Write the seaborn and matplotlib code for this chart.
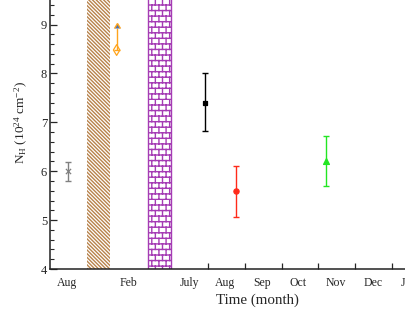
import numpy as np
import matplotlib
matplotlib.use("Agg")
import matplotlib.pyplot as plt
import matplotlib.hatch as mhatch
from matplotlib.path import Path
from matplotlib.ticker import AutoMinorLocator
import seaborn as sns

# time axis (compressed at the start, one unit = one month from x=7 on)
month_labels = ["Aug", "Feb", "July", "Aug", "Sep", "Oct", "Nov", "Dec", "Jan", "Feb"]
month_pos = [3.17, 4.85, 6.5, 7.46, 8.46, 9.46, 10.48, 11.5, 12.44, 13.5]
month_edges = [7, 8, 9, 10, 11, 12, 13]

# N_H measurements
obs_x = [3.2, 4.52, 6.92, 7.77, 10.21]
obs_nh = [6.0, 8.48, 7.4, 5.6, 6.2]
obs_err_lo = [0.19, 0.0, 0.58, 0.53, 0.5]
obs_err_hi = [0.19, 0.45, 0.6, 0.51, 0.52]
obs_lowlim = [False, True, False, False, False]
obs_color = ["#808080", "#ffa41c", "#000000", "#ff2a1a", "#22e622"]
obs_marker = ["x", "d", "s", "o", "^"]
obs_size = [14, 30, 10, 14, 18]
obs_open = [False, True, False, False, False]

# shaded periods (start, end)
band_stripes = (3.72, 4.34)
band_bricks = (5.36, 6.01)


# brick hatch, takes over the 'o' hatch character
class Bricks(mhatch.HatchPatternBase):
    def __init__(self, hatch, density):
        self.rows = 18 if "o" in hatch else 0
        self.cols = 14
        self.num_vertices = 2 * (self.rows + self.rows * self.cols)

    def set_vertices_and_codes(self, vertices, codes):
        i = 0
        for k in range(self.rows):
            y0 = (k + 0.1) / self.rows
            y1 = (k + 1.1) / self.rows
            vertices[i] = (0, y0)
            vertices[i + 1] = (1, y0)
            i += 2
            for j in range(self.cols):
                xx = (j + 0.25 + 0.5 * (k % 2)) / self.cols
                vertices[i] = (xx, y0)
                vertices[i + 1] = (xx, y1)
                i += 2
        codes[0::2] = Path.MOVETO
        codes[1::2] = Path.LINETO


mhatch._hatch_types = [t for t in mhatch._hatch_types if t.__name__ != "SmallCircles"] + [Bricks]

sns.set_theme(style="ticks")
plt.rcParams["font.family"] = ["Liberation Serif", "DejaVu Serif"]
plt.rcParams["mathtext.fontset"] = "custom"
plt.rcParams["mathtext.rm"] = "Liberation Serif"
plt.rcParams["mathtext.it"] = "Liberation Serif:italic"
plt.rcParams["hatch.linewidth"] = 1.0

fig = plt.figure(figsize=(4.05, 3.11), dpi=100)
ax = fig.add_axes([0.1235, 0.135, 1.026, 0.943])

ax.axvspan(*band_stripes, facecolor="white", edgecolor="#b8834c",
           hatch="\\" * 9, linewidth=0, zorder=1)
ax.axvspan(*band_bricks, facecolor="white", edgecolor="#a53cb4",
           hatch="o", linewidth=1.0, zorder=1)

for i in range(len(obs_x)):
    c = obs_color[i]
    ax.errorbar([obs_x[i]], [obs_nh[i]],
                yerr=[[obs_err_lo[i]], [obs_err_hi[i]]],
                lolims=obs_lowlim[i], fmt="none", ecolor=c,
                elinewidth=1.0, capsize=2.2, capthick=1.0, zorder=2)
    sns.scatterplot(x=[obs_x[i]], y=[obs_nh[i]], marker=obs_marker[i],
                    s=obs_size[i],
                    facecolor="none" if obs_open[i] else c,
                    edgecolor=c, linewidth=0.9, ax=ax, zorder=3)

ax.set_xlim(2.71, 14)
ax.set_ylim(4, 10)

ax.set_xticks(month_edges)
ax.set_xticklabels([])
ax.set_xticks(month_pos, minor=True)
ax.set_xticklabels(month_labels, minor=True)
ax.tick_params(axis="x", which="major", direction="in", length=4, width=0.9)
ax.tick_params(axis="x", which="minor", length=0, pad=6, labelsize=8.5)

ax.set_yticks(np.arange(4, 10))
ax.yaxis.set_minor_locator(AutoMinorLocator(5))
ax.tick_params(axis="y", which="major", direction="in", length=5, width=0.9,
               labelsize=9, pad=2)
ax.tick_params(axis="y", which="minor", direction="in", length=3, width=0.8)

for s in ax.spines.values():
    s.set_linewidth(1.1)
    s.set_color("#222222")

ax.set_xlabel("Time (month)", fontsize=10.8, labelpad=3)
ax.set_ylabel(r"N$_\mathrm{H}$ (10$^{24}$ cm$^{-2}$)", fontsize=9.5, labelpad=8)

fig.savefig("out.png", dpi=100)
